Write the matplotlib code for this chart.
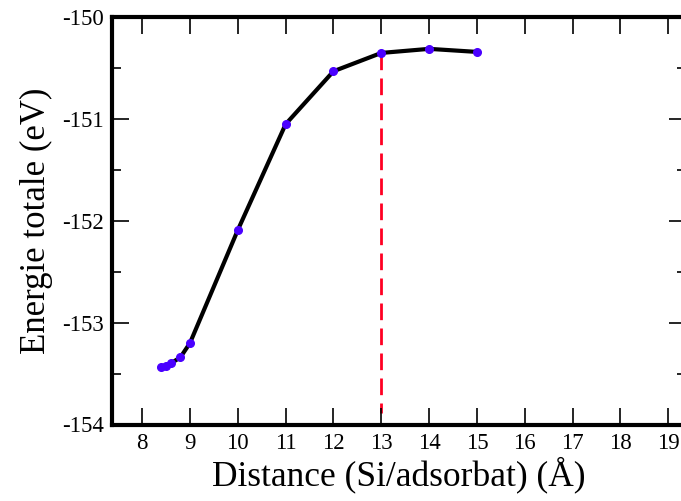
import matplotlib.pyplot as plt
from matplotlib.ticker import MultipleLocator

# distance Si/adsorbat (Angstrom) and total energy (eV)
distance = [8.4, 8.5, 8.6, 8.8, 9.0, 10.0, 11.0, 12.0, 13.0, 14.0, 15.0]
energie = [-153.44, -153.43, -153.40, -153.34, -153.20, -152.09, -151.05,
           -150.53, -150.35, -150.31, -150.34]

# vertical marker at the equilibrium distance
x_eq = 13.0
y_eq = [-150.35, -153.89]

plt.rcParams['font.family'] = ['Liberation Serif', 'DejaVu Serif']
plt.rcParams['axes.unicode_minus'] = False

fig = plt.figure(figsize=(6.81, 5.01), dpi=100)
ax = fig.add_axes([112 / 681, 1 - 424.5 / 501, (686 - 112) / 681, (424.5 - 17.3) / 501])

ax.plot(distance, energie, color='black', lw=3, zorder=2)
ax.plot(distance, energie, 'o', color='#4a00ff', ms=5.5, zorder=3)
ax.plot([x_eq, x_eq], y_eq, color='#ff0022', lw=2, dashes=(6, 3), zorder=1)

ax.set_xlim(7.37, 19.37)
ax.set_ylim(-154, -150)
ax.xaxis.set_major_locator(MultipleLocator(1))
ax.yaxis.set_major_locator(MultipleLocator(1))
ax.yaxis.set_minor_locator(MultipleLocator(0.5))

ax.tick_params(which='both', direction='in', top=True, right=True, width=1.2,
               labelsize=16.5, pad=6)
ax.tick_params(which='major', length=12)
ax.tick_params(which='minor', length=6.5)
for s in ax.spines.values():
    s.set_linewidth(3)

ax.set_xlabel("Distance (Si/adsorbat) (Å)", fontsize=25.5, labelpad=2)
ax.set_ylabel("Energie totale (eV)", fontsize=25, labelpad=6)

fig.savefig("out.png", dpi=100)
